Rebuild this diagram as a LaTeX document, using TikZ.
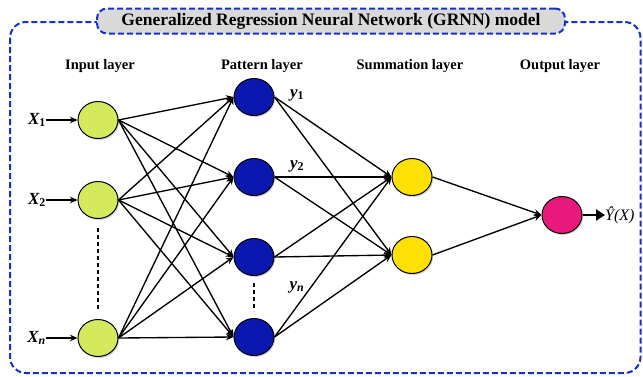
\documentclass[tikz,border=0pt]{standalone}
\usepackage{fontspec}
\setmainfont{Liberation Serif}
\usetikzlibrary{arrows.meta,shadows,shapes.geometric}
\definecolor{frameblue}{HTML}{1430D0}
\definecolor{titlegray}{HTML}{D9D9D9}
\definecolor{inpcol}{HTML}{D4EA5C}
\definecolor{patcol}{HTML}{0A18B0}
\definecolor{sumcol}{HTML}{FFE000}
\definecolor{outcol}{HTML}{E8187C}
\tikzset{
  neuron/.style={ellipse, minimum width=40pt, minimum height=37pt, inner sep=0pt, draw=black, line width=1pt,
     drop shadow={shadow xshift=1.2pt, shadow yshift=-1.5pt, opacity=0.35}},
  inpnode/.style={neuron, fill=inpcol},
  patnode/.style={neuron, fill=patcol},
  sumnode/.style={neuron, fill=sumcol},
  outnode/.style={neuron, fill=outcol},
  layerlabel/.style={font=\fontsize{14.5}{16}\selectfont\bfseries},
  varlabel/.style={font=\fontsize{17}{19}\selectfont\bfseries\itshape, inner sep=0pt},
  conn/.style={line width=1.35pt, -{Stealth[length=7.5pt,width=6.5pt]}},
  bluedash/.style={draw=frameblue, line width=2pt, dash pattern=on 6pt off 3pt},
  vdots/.style={line width=1.3pt, dash pattern=on 4pt off 3pt},
}
\begin{document}
\begin{tikzpicture}[x=1pt,y=-1pt]
\useasboundingbox (0,0) rectangle (643,376);
% outer frame
\draw[bluedash, rounded corners=16pt] (10,22) rectangle (640.5,373);
% title
\node[bluedash, fill=titlegray, rounded corners=10pt, minimum width=468pt, minimum height=25pt, inner sep=0pt,
      font=\fontsize{17.5}{19}\selectfont\bfseries] (title) at (331,21) {Generalized Regression Neural Network (GRNN) model};
% layer labels
\node[layerlabel] (l1) at (100,66) {Input layer};
\node[layerlabel] (l2) at (262,66) {Pattern layer};
\node[layerlabel] (l3) at (410,66) {Summation layer};
\node[layerlabel] (l4) at (560,66) {Output layer};
% nodes
\node[inpnode] (i1) at (98,120) {};
\node[inpnode] (i2) at (98,200) {};
\node[inpnode] (i3) at (98,338) {};
\node[patnode] (p1) at (254,97) {};
\node[patnode] (p2) at (254,177) {};
\node[patnode] (p3) at (254,257) {};
\node[patnode] (p4) at (254,337) {};
\node[sumnode] (s1) at (412,177) {};
\node[sumnode] (s2) at (412,255) {};
\node[outnode] (o) at (562,215) {};
% input labels
\node[varlabel, anchor=east] (x1) at (46,120) {X\textsubscript{\upshape 1}};
\node[varlabel, anchor=east] (x2) at (46,200) {X\textsubscript{\upshape 2}};
\node[varlabel, anchor=east] (xn) at (46,338) {X\textsubscript{n}};
\draw[conn] (x1.east) -- (i1.west);
\draw[conn] (x2.east) -- (i2.west);
\draw[conn] (xn.east) -- (i3.west);
% input -> pattern
\foreach \i in {i1,i2,i3}{
  \foreach \p in {p1,p2,p3,p4}{
    \draw[conn] (\i.east) -- (\p.west);
  }
}
% pattern -> summation
\foreach \p in {p1,p2,p3,p4}{
  \foreach \s in {s1,s2}{
    \draw[conn] (\p.east) -- (\s.west);
  }
}
% summation -> output
\draw[conn] (s1.east) -- (o.west);
\draw[conn] (s2.east) -- (o.west);
% output
\node[font=\fontsize{16}{18}\selectfont\itshape, anchor=west, inner sep=0pt] (yx) at (605,215) {Ŷ(X)};
\draw[line width=2.6pt, -{Triangle[length=9pt,width=11pt]}] (o.east) -- (yx.west);
% pattern labels
\node[varlabel] (y1) at (297,95) {y\textsubscript{\upshape 1}};
\node[varlabel] (y2) at (297,166) {y\textsubscript{\upshape 2}};
\node[varlabel] (yn) at (297,287) {y\textsubscript{n}};
% vertical dots
\coordinate (d1) at (98,228);
\coordinate (d2) at (98,310);
\draw[vdots] (d1) -- (d2);
\coordinate (d3) at (254,283);
\coordinate (d4) at (254,311);
\draw[vdots] (d3) -- (d4);
\end{tikzpicture}
\end{document}
